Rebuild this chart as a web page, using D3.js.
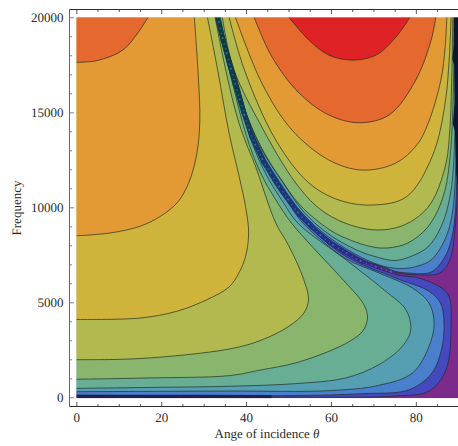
<!DOCTYPE html>
<html>
<head>
<meta charset="utf-8">
<script src="https://cdn.jsdelivr.net/npm/d3@7"></script>
<style>
  html, body { margin: 0; padding: 0; background: #fff; }
  svg { display: block; }
  text { font-family: "Liberation Serif", serif; fill: #2a2a2a; text-rendering: geometricPrecision; }
</style>
</head>
<body>
<div id="chart"></div>
<script>
// axis ticks
const thetaTicks = [0, 20, 40, 60, 80];
const thetaMinor = [5, 10, 15, 25, 30, 35, 45, 50, 55, 65, 70, 75, 85, 90];
const freqTicks = [0, 5000, 10000, 15000, 20000];
const freqMinor = [1000, 2000, 3000, 4000, 6000, 7000, 8000, 9000, 11000, 12000, 13000, 14000, 16000, 17000, 18000, 19000];

// band colours, low to high
const bandColors = ['#7c2a8c', '#4548c0', '#4a7fcb', '#569fb2', '#67ae94', '#89b66c', '#b1b950', '#d0b33b', '#e39a35', '#e5672d', '#df2327'];

// contours left of the valley, [theta, frequency], index = band they bound
const left1 = [[0,30],[45.4,20],[75.3,70],[83.1,330],[87.1,1440],[88.3,3910],[87.8,5330],[86.1,5750],[80.7,6280],[75.3,6460],[63.3,7570],[54.6,9170],[50.6,10280],[46.2,11650],[41.7,13700],[38.2,16440],[35.7,18280],[33.3,20000]];
const left2 = [[0,110],[45.4,80],[67.3,190],[78.4,400],[83.8,1280],[86.2,2680],[86.6,4080],[85.8,4960],[83.1,5580],[75.2,6280],[63.3,7440],[54.1,9170],[50.3,10280],[46.1,11650],[41.6,13700],[38.1,16440],[35.6,18280],[33.2,20000]];
const left3 = [[0,295],[36,330],[59.5,350],[71.3,630],[79.2,1280],[83.1,2680],[84.3,3910],[83.1,4960],[79.2,5750],[71.3,6540],[63.3,7330],[53.4,9170],[49.9,10230],[45.6,11650],[41.4,13700],[37.9,16440],[35.5,18280],[33.1,20000]];
const left4 = [[0,470],[17.4,520],[36,580],[51.7,720],[63.5,1020],[71.3,1720],[76.8,2680],[78.8,3560],[77.6,4620],[72.9,5580],[63.5,7240],[52.2,9170],[48.7,10280],[44.9,11650],[40.9,13700],[37.6,16440],[35.3,18280],[33.1,20000]];
const left5 = [[0,950],[17.4,1020],[36,1140],[43.7,1450],[51.7,1810],[59.5,2420],[64.5,2960],[67.5,3490],[68.6,4170],[67.8,4860],[63.5,6020],[55.5,7950],[50.7,9170],[47,10390],[43.3,11860],[40,13810],[36.9,16440],[34.8,18280],[32.8,20000]];
const left6 = [[0,1980],[15,2040],[36,2540],[43.7,3020],[50.1,3740],[53.6,4430],[54.7,5140],[53.6,6190],[50.1,7960],[47,9170],[42.1,12230],[39.9,13440],[37.9,14750],[36,16430],[34.3,18180],[32.7,20000]];
const left7 = [[0,4100],[15,4170],[23.7,4530],[30.8,5140],[36,5810],[38.3,6540],[39.9,7430],[40.6,8650],[39.9,10000],[38.4,11590],[36,13900],[33.4,17110],[30.9,20000]];
const left8 = [[0,8500],[8,8650],[15,9000],[20,9550],[24,10300],[26.5,11300],[28.3,12700],[29.1,14500],[28.7,17060],[27.8,20000]];
const left9 = [[0,17630],[4.9,17720],[11,18280],[14.5,19180],[16.9,20000]];

// contours right of the valley
const right1 = [[33.4,20000],[36,17650],[39.6,14960],[44,12590],[48.6,10910],[52.8,9620],[59.8,8200],[67.5,7200],[71.5,6880],[75.3,6570],[81.7,6440],[85.7,6540],[88,7230],[89.2,8800],[89.9,11960],[89.9,20000]];
const right2 = [[33.5,20000],[36,17670],[39.7,14990],[43.7,12750],[48.5,11070],[52.9,9650],[59.8,8280],[67.5,7250],[72.7,6830],[75.3,6620],[78.1,6540],[83.6,6590],[86.8,7380],[88.7,8650],[89.8,13020],[89.8,20000]];
const right3 = [[33.5,20000],[36.1,17700],[39.7,15020],[43.5,12960],[48.2,11230],[53.2,9700],[59.8,8380],[67.5,7330],[72.7,6880],[77,6780],[80.5,6910],[83.6,7230],[86.8,8280],[88.7,9860],[89.6,15650],[89.6,20000]];
const right4 = [[33.6,20000],[36.2,17600],[40,14960],[43.7,13020],[48.5,11380],[53.6,9750],[59.8,8540],[66.1,7750],[69.9,7440],[75.1,7200],[79.1,7440],[82.8,7910],[85.9,8960],[88.3,10910],[89.4,16700],[89.5,20000]];
const right5 = [[33.9,20000],[36.4,17490],[40.4,14700],[44.2,12910],[48,11540],[52.7,10120],[59.8,8800],[64.5,8280],[69.9,7910],[73.4,7860],[78.1,8120],[82.8,8960],[86.4,10540],[88.2,13020],[89.1,20000]];
const right6 = [[34.4,20000],[37,17330],[43.7,14230],[51.7,11280],[57.4,9910],[63.3,9170],[69.7,8820],[75.1,8910],[79.8,9380],[83.6,10230],[86.9,12120],[88,14060],[88.7,20000]];
const right7 = [[36,20000],[39.7,17170],[47,13540],[54.8,11280],[61.9,10380],[69.7,10120],[77.7,10540],[83.8,12650],[87,15650],[88.3,20000]];
const right8 = [[37.5,20000],[43.7,16540],[50.8,14070],[59.5,12490],[67.3,11960],[75.3,12330],[80.3,13300],[82.9,14420],[85.9,16700],[86.9,18400],[87.3,20000]];
const right9 = [[41.9,20000],[46.1,17910],[52.5,16010],[59.5,14860],[66.6,14450],[73.7,14860],[80,16700],[83.6,18800],[84.7,20000]];
const right10 = [[50.1,20000],[54.8,18800],[59.5,18010],[64.9,17750],[70.6,18010],[75.3,18960],[78.6,20000]];

// the packed, speckled valley, the packed strip on the right rim, the navy floor
const valleyLine = [[33.3,20000],[34.6,18800],[36,17650],[37.4,16540],[39.5,14960],[41.4,13700],[44.2,12380],[48.7,10800],[52.7,9590],[55.5,8960],[59.8,8120],[63.3,7650],[67.5,7120],[71.5,6810],[75.3,6520]];
const valleyInk = ['#0f3a44', '#0f3a44', '#0f3a48', '#10384e', '#123a58', '#14386a', '#173878', '#1a367e', '#1e3484', '#23308a', '#2a2c8c', '#33288c', '#3c268c', '#4a2a8c'];
const valleyWidth = [5, 5, 5, 5, 5, 5, 5, 5, 5, 4.5, 4.5, 4, 3, 1.5];
const rimStrip = [[88.9,20000],[90,20000],[90,11000],[89.5,11800],[89.2,14000],[88.7,14400],[89.1,15500],[89,17500],[88.6,17800],[88.9,18500]];
const floorLine = [[0,40],[30,40],[46,30]];

const leftContours = [left1, left2, left3, left4, left5, left6, left7, left8, left9];
const rightContours = [right1, right2, right3, right4, right5, right6, right7, right8, right9, right10];

const width = 458, height = 446;
const frameLeft = 69.5, frameTop = 9.5, frameBottom = 406.5;

const x = d3.scaleLinear().domain([0, 90]).range([76.3, 458.3]);
const y = d3.scaleLinear().domain([0, 20000]).range([397.3, 17.3]);

const svg = d3.select('#chart').append('svg')
  .attr('width', width)
  .attr('height', height);

const defs = svg.append('defs');
defs.append('filter').attr('id', 'soft')
  .append('feGaussianBlur').attr('stdDeviation', 0.35);
defs.append('clipPath').attr('id', 'plot')
  .append('rect')
  .attr('x', x(0)).attr('y', y(20000))
  .attr('width', x(90) - x(0)).attr('height', y(-50) - y(20000));

const contourLine = d3.line()
  .x(d => x(d[0]))
  .y(d => y(d[1]))
  .curve(d3.curveCatmullRom.alpha(0.5));
const straightLine = d3.line()
  .x(d => x(d[0]))
  .y(d => y(d[1]));

const plot = svg.append('g')
  .attr('clip-path', 'url(#plot)')
  .append('g')
  .attr('filter', 'url(#soft)');

plot.append('rect')
  .attr('x', x(0)).attr('y', y(20000))
  .attr('width', x(90) - x(0)).attr('height', y(-50) - y(20000))
  .attr('fill', bandColors[0]);

// nested fills, painted low to high
plot.selectAll('.left-band')
  .data(leftContours)
  .enter().append('path')
  .attr('class', 'left-band')
  .attr('fill', (d, i) => bandColors[i + 1])
  .attr('d', d => contourLine(d) + `L${x(0)},${y(20000)}Z`);

plot.selectAll('.right-band')
  .data(rightContours)
  .enter().append('path')
  .attr('class', 'right-band')
  .attr('fill', (d, i) => bandColors[i + 1])
  .attr('d', d => contourLine(d) + 'Z');

plot.append('path')
  .attr('fill', 'none')
  .attr('stroke', '#231c78')
  .attr('stroke-width', 3.4)
  .attr('d', straightLine(floorLine));

plot.selectAll('.contour')
  .data(leftContours.concat(rightContours))
  .enter().append('path')
  .attr('class', 'contour')
  .attr('fill', 'none')
  .attr('stroke', '#1d2a20')
  .attr('stroke-opacity', 0.85)
  .attr('stroke-width', 0.8)
  .attr('d', contourLine);

// valley core, one piece per segment so ink and width can change along it
plot.selectAll('.valley')
  .data(d3.pairs(valleyLine))
  .enter().append('path')
  .attr('class', 'valley')
  .attr('fill', 'none')
  .attr('stroke', (d, i) => valleyInk[i])
  .attr('stroke-width', (d, i) => valleyWidth[i])
  .attr('stroke-linecap', 'round')
  .attr('d', straightLine);

plot.append('path')
  .attr('fill', 'none')
  .attr('stroke', '#5f9fa8')
  .attr('stroke-opacity', 0.55)
  .attr('stroke-width', 1.6)
  .attr('stroke-dasharray', '1 3 2 5 1 4')
  .attr('d', contourLine(valleyLine));

plot.append('path')
  .attr('fill', '#10182e')
  .attr('d', straightLine(rimStrip) + 'Z');

// frame: inward ticks on left, top and bottom
function styleAxis(g, color) {
  g.selectAll('.domain').attr('stroke', color).attr('stroke-width', 1);
  g.selectAll('.tick line').attr('stroke', color).attr('stroke-width', 0.8);
}

function addAxis(axis, major, minor, transform, color, padding) {
  const g = svg.append('g').attr('transform', transform);
  g.call(axis.tickValues(major).tickSizeInner(-4.5).tickSizeOuter(0).tickPadding(padding).tickFormat(padding ? d3.format('d') : ''));
  styleAxis(g, color);
  const gm = svg.append('g').attr('transform', transform);
  gm.call(axis.tickValues(minor).tickSizeInner(-2.5).tickSizeOuter(0).tickFormat(''));
  styleAxis(gm, color);
  gm.select('.domain').remove();
  return g;
}

const bottomAxis = addAxis(d3.axisBottom(x), thetaTicks, thetaMinor, `translate(0,${frameBottom})`, '#2c2c2c', 8);
const topAxis = addAxis(d3.axisTop(x), thetaTicks, thetaMinor, `translate(0,${frameTop})`, '#2c2c2c', 0);
const leftAxis = addAxis(d3.axisLeft(y), freqTicks, freqMinor, `translate(${frameLeft},0)`, '#666', 6);

// the domain line has to span the whole frame
bottomAxis.select('.domain').attr('d', `M${frameLeft},0H458`);
topAxis.select('.domain').attr('d', `M${frameLeft},0H458`);
leftAxis.select('.domain').attr('d', `M0,${frameTop}V${frameBottom}`);

svg.selectAll('g.tick text')
  .attr('font-size', 13)
  .style('font-family', '"Liberation Serif", serif')
  .attr('fill', '#2a2a2a');
bottomAxis.selectAll('.tick text').attr('dy', '0.55em');

const xTitle = svg.append('text')
  .attr('x', 267)
  .attr('y', 438)
  .attr('text-anchor', 'middle')
  .attr('font-size', 13);
xTitle.append('tspan').text('Ange of incidence ');
xTitle.append('tspan').attr('font-style', 'italic').text('θ');

svg.append('text')
  .attr('transform', 'translate(21,208) rotate(-90)')
  .attr('text-anchor', 'middle')
  .attr('font-size', 13)
  .text('Frequency');
</script>
</body>
</html>
